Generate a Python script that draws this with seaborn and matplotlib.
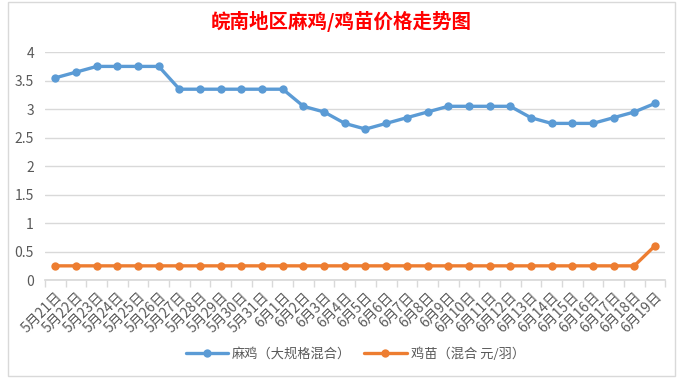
import numpy as np
import pandas as pd
import seaborn as sns
import matplotlib.pyplot as plt

dates = [f"5月{d}日" for d in range(21, 32)] + [f"6月{d}日" for d in range(1, 20)]
maji = [3.55, 3.65, 3.75, 3.75, 3.75, 3.75, 3.35, 3.35, 3.35, 3.35, 3.35,
        3.35, 3.05, 2.95, 2.75, 2.65, 2.75, 2.85, 2.95, 3.05, 3.05, 3.05, 3.05,
        2.85, 2.75, 2.75, 2.75, 2.85, 2.95, 3.1]
jimiao = [0.25] * 29 + [0.6]
series_names = ["麻鸡（大规格混合）", "鸡苗（混合 元/羽）"]

df = pd.DataFrame({"date": dates * 2,
                   "price": maji + jimiao,
                   "series": [series_names[0]] * 30 + [series_names[1]] * 30})

sns.set_theme(style="white")
plt.rcParams["font.family"] = ["Noto Sans CJK SC", "DejaVu Sans"]

fig = plt.figure(figsize=(6.83, 3.78), dpi=100)
ax = fig.add_axes([0.066, 0.259, 0.908, 0.603])

palette = {series_names[0]: "#5B9BD5", series_names[1]: "#ED7D31"}
sns.lineplot(data=df, x="date", y="price", hue="series", palette=palette,
             marker="o", markersize=6, markeredgewidth=0, linewidth=2.4,
             sort=False, ax=ax)

ax.set_xlim(-0.5, len(dates) - 0.5)
ax.set_ylim(0, 4)
ax.set_yticks(np.arange(0, 4.01, 0.5))
ax.set_yticklabels(["0", "0.5", "1", "1.5", "2", "2.5", "3", "3.5", "4"])
ax.yaxis.grid(True, color="#d9d9d9", linewidth=1)
ax.set_xlabel("")
ax.set_ylabel("")
for s in ["left", "right", "top"]:
    ax.spines[s].set_visible(False)
ax.spines["bottom"].set_color("#d9d9d9")

ax.set_xticks(range(len(dates)))
ax.set_xticklabels(dates, rotation=45, ha="right", rotation_mode="anchor")
ax.set_xticks(np.arange(-0.5, len(dates), 1), minor=True)
ax.tick_params(axis="x", which="major", length=0, pad=7, labelsize=10, labelcolor="#595959")
ax.tick_params(axis="x", which="minor", length=5, color="#d9d9d9", direction="out")
ax.tick_params(axis="y", length=0, labelsize=10, labelcolor="#595959", pad=8)
ax.xaxis.set_tick_params(bottom=True, which="minor")

fig.text(0.5, 0.942, "皖南地区麻鸡/鸡苗价格走势图", color="#FF0000",
         fontsize=14, fontweight="bold", ha="center", va="center")

handles, labels = ax.get_legend_handles_labels()
ax.legend(handles, labels, loc="center", bbox_to_anchor=(0.5, -0.325),
          ncol=2, frameon=False, fontsize=9.5, handlelength=3.2,
          columnspacing=1.0, handletextpad=0.3, labelcolor="#595959")

fig.patches.append(plt.Rectangle((0.012, 0.005), 0.976, 0.99, transform=fig.transFigure,
                                 fill=False, edgecolor="#d9d9d9", linewidth=1))

fig.savefig("out.png", dpi=100)
